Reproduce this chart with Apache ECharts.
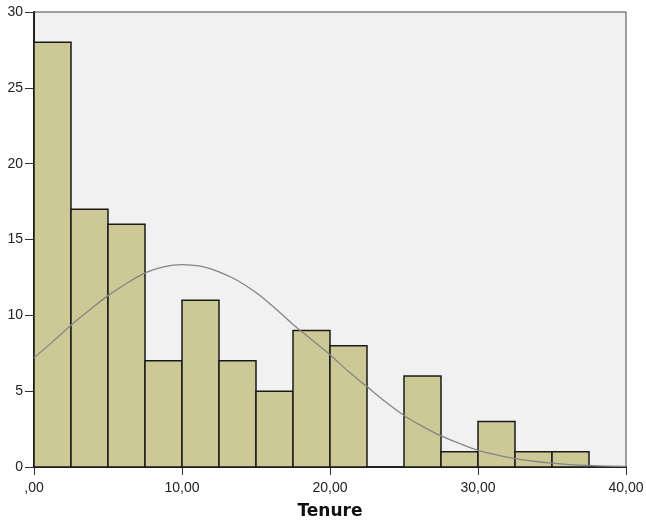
<!DOCTYPE html>
<html>
<head>
<meta charset="utf-8">
<script src="https://cdn.jsdelivr.net/npm/echarts@6/dist/echarts.min.js"></script>
<style>html,body{margin:0;padding:0;background:#fff}#c{width:646px;height:522px}</style>
</head>
<body>
<div id="c"></div>
<script>
// Histogram bins (Tenure)
const binLower = [0, 2.5, 5, 7.5, 10, 12.5, 15, 17.5, 20, 22.5, 25, 27.5, 30, 32.5, 35];
const binUpper = [2.5, 5, 7.5, 10, 12.5, 15, 17.5, 20, 22.5, 25, 27.5, 30, 32.5, 35, 37.5];
const binCounts = [28, 17, 16, 7, 11, 7, 5, 9, 8, 0, 6, 1, 3, 1, 1];
// Normal curve
const curveX = [0, 1.25, 2.5, 3.75, 5, 6.25, 7.5, 8.75, 10, 11.25, 12.5, 13.75, 15, 16.25, 17.5, 18.75, 20,
                21.25, 22.5, 23.75, 25, 26.25, 27.5, 28.75, 30, 31.25, 32.5, 33.75, 35, 36.25, 37.5, 38.75, 40];
const curveY = [7.2, 8.25, 9.35, 10.35, 11.3, 12.1, 12.8, 13.2, 13.35, 13.24, 12.87, 12.3, 11.5, 10.5, 9.4, 8.4, 7.4,
                6.3, 5.3, 4.3, 3.4, 2.68, 2.05, 1.55, 1.1, 0.8, 0.55, 0.38, 0.25, 0.16, 0.1, 0.06, 0.04];
const xTicks = [0, 10, 20, 30, 40];
const yTicks = [0, 5, 10, 15, 20, 25, 30];

const barData = binLower.map((lo, i) => [lo, binUpper[i], binCounts[i]]);
const lineData = curveX.map((x, i) => [x, curveY[i]]);

const chart = echarts.init(document.getElementById('c'), null, {renderer: 'canvas'});
const fmtX = v => (v === 0 ? ',00' : v.toFixed(2).replace('.', ','));
chart.setOption({
  animation: false,
  grid: {left: 34, right: 20, top: 12, bottom: 55, containLabel: false, outerBoundsMode: 'none', show: true, backgroundColor: '#F0F1F0', borderColor: '#444', borderWidth: 1},
  xAxis: {
    type: 'value', min: xTicks[0], max: xTicks[xTicks.length - 1], interval: 10,
    name: 'Tenure', nameLocation: 'middle', nameGap: 36,
    nameTextStyle: {fontFamily: 'DejaVu Sans', fontWeight: 'bold', fontSize: 17, color: '#111'},
    axisLine: {show: true, lineStyle: {color: '#222', width: 2}},
    axisTick: {show: true, inside: false, length: 8, lineStyle: {color: '#333', width: 1}},
    axisLabel: {formatter: fmtX, fontFamily: 'Liberation Sans', fontSize: 14, color: '#222', margin: 14},
    splitLine: {show: false}
  },
  yAxis: {
    type: 'value', min: yTicks[0], max: yTicks[yTicks.length - 1], interval: 5,
    axisLine: {show: true, lineStyle: {color: '#222', width: 2}},
    axisTick: {show: true, inside: false, length: 9, lineStyle: {color: '#333', width: 1}},
    axisLabel: {fontFamily: 'Liberation Sans', fontSize: 14, color: '#222', margin: 11},
    splitLine: {show: false}
  },
  series: [
    {
      type: 'custom',
      data: barData,
      encode: {x: [0, 1], y: 2},
      renderItem: function (params, api) {
        const c = api.value(2);
        if (!c) return null;
        const p0 = api.coord([api.value(0), c]);
        const p1 = api.coord([api.value(1), 0]);
        return {
          type: 'rect',
          shape: {x: p0[0], y: p0[1], width: p1[0] - p0[0], height: p1[1] - p0[1]},
          style: {fill: '#CCC996', stroke: '#1a1a1a', lineWidth: 1.5}
        };
      },
      z: 2
    },
    {
      type: 'line',
      data: lineData,
      smooth: 0.3,
      showSymbol: false,
      symbol: 'none',
      lineStyle: {color: '#858585', width: 1.3},
      z: 3
    }
  ]
});
</script>
</body>
</html>
